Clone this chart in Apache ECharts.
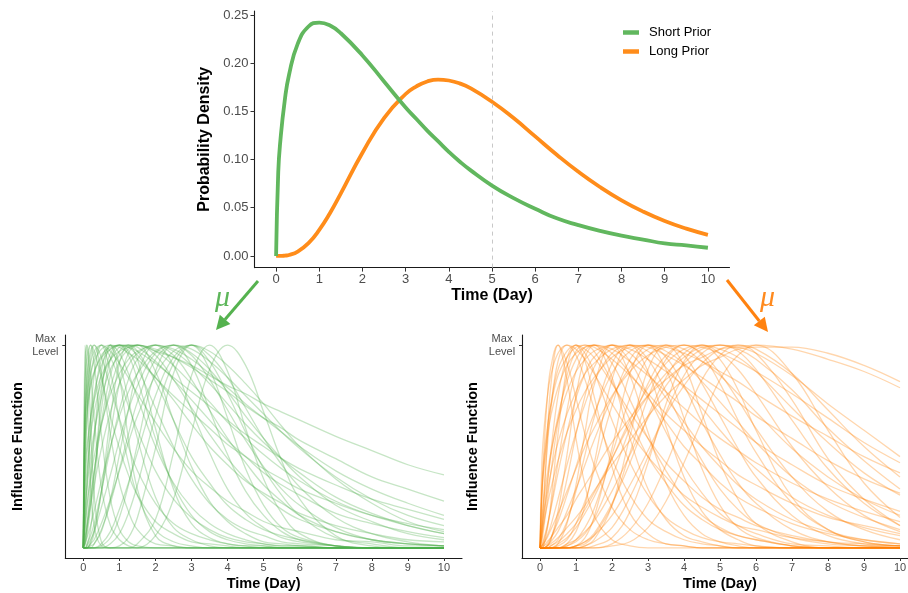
<!DOCTYPE html>
<html><head><meta charset="utf-8">
<script src="https://cdn.jsdelivr.net/npm/echarts@6/dist/echarts.min.js"></script>
<style>html,body{margin:0;padding:0;background:#fff}#c{width:908px;height:593px}</style>
</head><body><div id="c"></div>
<script>
// ---------- DATA ----------
const densityTime = [0, 0.05, 0.1, 0.2, 0.3, 0.5, 0.75, 1, 1.25, 1.5, 2, 2.5, 3, 3.25, 3.5, 3.75, 4, 4.25, 4.5, 5, 5.5, 6, 6.5, 7, 7.5, 8, 8.5, 9, 9.5, 10];
const shortPrior = [0, 0.087, 0.120, 0.161, 0.188, 0.220, 0.238, 0.242, 0.239, 0.231, 0.208, 0.181, 0.154, 0.142, 0.130, 0.119, 0.108, 0.098, 0.089, 0.073, 0.060, 0.049, 0.039, 0.032, 0.026, 0.021, 0.017, 0.013, 0.011, 0.0085];
const longPrior = [0, 0, 0, 0.0003, 0.001, 0.0045, 0.0133, 0.027, 0.0446, 0.0649, 0.107, 0.143, 0.168, 0.176, 0.181, 0.183, 0.182, 0.179, 0.174, 0.160, 0.143, 0.124, 0.105, 0.0873, 0.0715, 0.0577, 0.046, 0.0362, 0.0283, 0.0219];
const dayTicks = [0, 1, 2, 3, 4, 5, 6, 7, 8, 9, 10];
const densityTicks = [0, 0.05, 0.10, 0.15, 0.20, 0.25];
const influenceTime = [0, 0.05, 0.1, 0.2, 0.3, 0.5, 0.75, 1, 1.25, 1.5, 2, 2.5, 3, 3.5, 4, 4.5, 5, 5.5, 6, 7, 8, 9, 10];
const maxLevelTick = [1];

const shortCurves = [
 [0,.62,.71,.81,.87,.94,.98,1,1,1,.97,.94,.90,.85,.80,.76,.71,.67,.63,.55,.48,.41,.36],
 [0,.39,.50,.64,.73,.85,.93,.97,.99,1,.98,.94,.89,.83,.77,.70,.64,.59,.53,.44,.35,.29,.23],
 [0,.12,.21,.34,.45,.61,.76,.86,.93,.97,1,.98,.93,.86,.79,.71,.64,.57,.50,.38,.29,.22,.16],
 [0,.55,.67,.79,.86,.95,.99,1,.99,.97,.91,.84,.77,.70,.63,.56,.50,.44,.39,.31,.24,.19,.14],
 [0,.02,.05,.11,.18,.33,.50,.65,.77,.86,.97,1,.98,.92,.84,.75,.66,.57,.49,.35,.24,.16,.11],
 [0,.64,.75,.86,.92,.98,1,.99,.96,.93,.84,.75,.67,.59,.51,.45,.39,.34,.29,.22,.16,.12,.09],
 [0,0,0,.02,.04,.12,.24,.38,.52,.65,.85,.97,1,.97,.90,.81,.71,.60,.50,.34,.22,.13,.08],
 [0,.19,.29,.45,.57,.74,.88,.95,.99,1,.97,.90,.81,.72,.62,.54,.46,.39,.33,.23,.16,.11,.07],
 [0,.05,.10,.21,.31,.49,.67,.81,.90,.96,1,.97,.90,.81,.71,.61,.52,.44,.37,.25,.17,.11,.07],
 [0,.25,.38,.55,.67,.82,.93,.99,1,.99,.92,.83,.73,.63,.53,.45,.37,.31,.26,.17,.12,.08,.05],
 [0,0,.01,.04,.08,.20,.36,.53,.68,.80,.96,1,.96,.88,.77,.65,.54,.44,.35,.21,.13,.07,.04],
 [0,.32,.46,.64,.76,.90,.98,1,.99,.95,.84,.73,.61,.50,.41,.33,.27,.22,.17,.11,.07,.04,.03],
 [0,0,0,0,0,.02,.08,.19,.32,.47,.75,.94,1,.95,.84,.69,.54,.41,.30,.15,.07,.03,.01],
 [0,0,0,0,0,0,0,0,0,0,.06,.24,.57,.88,1,.90,.67,.43,.24,.06,.01,0,0],
 [0,0,0,0,0,0,0,0,0,.02,.14,.47,.85,1,.87,.59,.34,.17,.07,.01,0,0,0],
 [0,0,0,0,0,0,0,.01,.05,.15,.49,.86,1,.88,.64,.39,.21,.10,.05,.01,0,0,0],
 [0,0,0,0,0,.01,.05,.15,.31,.51,.87,1,.90,.68,.46,.28,.16,.08,.04,.01,0,0,0],
 [0,0,0,0,0,0,.02,.07,.17,.31,.65,.91,1,.92,.76,.57,.39,.26,.16,.05,.02,0,0],
 [0,0,0,0,.02,.08,.24,.46,.68,.86,1,.90,.68,.47,.29,.17,.10,.05,.03,.01,0,0,0],
 [0,0,0,.03,.09,.27,.56,.81,.96,1,.87,.63,.40,.23,.13,.07,.03,.02,.01,0,0,0,0],
 [0,.02,.06,.20,.36,.68,.93,1,.95,.83,.54,.31,.16,.08,.04,.02,.01,0,0,0,0,0,0],
 [0,.09,.19,.38,.55,.79,.96,1,.97,.89,.69,.50,.34,.22,.14,.09,.06,.03,.02,.01,0,0,0],
 [0,.17,.32,.55,.73,.93,1,.96,.86,.74,.50,.32,.20,.12,.07,.04,.02,.01,.01,0,0,0,0],
 [0,.03,.10,.31,.53,.87,1,.91,.73,.54,.25,.10,.04,.01,0,0,0,0,0,0,0,0,0],
 [0,.43,.62,.83,.94,1,.94,.83,.70,.58,.38,.24,.15,.09,.05,.03,.02,.01,.01,0,0,0,0],
 [0,.12,.30,.62,.85,1,.87,.63,.42,.26,.09,.03,.01,0,0,0,0,0,0,0,0,0,0],
 [0,.68,.84,.97,1,.94,.79,.64,.50,.38,.22,.12,.07,.04,.02,.01,.01,0,0,0,0,0,0],
 [0,.38,.65,.93,1,.86,.56,.32,.18,.09,.02,.01,0,0,0,0,0,0,0,0,0,0,0],
 [0,.83,.94,1,.97,.84,.65,.49,.36,.26,.13,.07,.03,.02,.01,0,0,0,0,0,0,0,0],
 [0,.53,.82,1,.91,.56,.24,.09,.03,.01,0,0,0,0,0,0,0,0,0,0,0,0,0],
 [0,.91,1,.86,.64,.30,.11,.04,.01,0,0,0,0,0,0,0,0,0,0,0,0,0,0],
 [0,.75,1,.63,.26,.03,0,0,0,0,0,0,0,0,0,0,0,0,0,0,0,0,0],
 [0,1,.81,.32,.11,.01,0,0,0,0,0,0,0,0,0,0,0,0,0,0,0,0,0],
 [0,0,0,.01,.02,.09,.22,.39,.56,.72,.93,1,.95,.83,.68,.53,.40,.29,.21,.10,.04,.02,.01],
 [0,0,.02,.06,.12,.28,.49,.68,.83,.93,1,.95,.83,.68,.54,.42,.31,.23,.16,.08,.04,.02,.01],
 [0,.03,.09,.23,.37,.62,.85,.97,1,.97,.82,.63,.45,.32,.21,.14,.09,.06,.04,.01,0,0,0],
 [0,.66,.78,.91,.97,1,.97,.91,.84,.76,.62,.49,.38,.30,.23,.18,.13,.10,.08,.04,.03,.01,.01],
 [0,.05,.12,.25,.38,.60,.79,.92,.98,1,.95,.83,.69,.56,.44,.34,.26,.19,.14,.08,.04,.02,.01],
 [0,0,0,.02,.07,.28,.64,.91,1,.93,.59,.29,.12,.05,.02,.01,0,0,0,0,0,0,0],
 [0,0,.01,.09,.28,.75,1,.84,.54,.29,.06,.01,0,0,0,0,0,0,0,0,0,0,0]
];

const longCurves = [
 [0,0,0,.01,.02,.05,.10,.15,.21,.28,.41,.53,.65,.75,.83,.90,.94,.98,.99,.99,.96,.90,.82],
 [0,0,.01,.03,.05,.10,.16,.24,.31,.38,.52,.64,.75,.83,.90,.94,.98,.99,1,.98,.93,.87,.79],
 [0,0,0,0,.01,.03,.07,.12,.19,.27,.44,.61,.75,.86,.94,.99,1,.99,.96,.85,.71,.58,.45],
 [0,.01,.02,.05,.09,.17,.28,.39,.50,.59,.75,.87,.95,.99,1,.99,.96,.92,.87,.76,.64,.52,.42],
 [0,.06,.12,.21,.29,.43,.57,.68,.77,.84,.94,.99,1,.99,.96,.92,.87,.82,.76,.65,.55,.45,.37],
 [0,0,0,0,0,0,0,.01,.03,.06,.16,.31,.48,.66,.80,.91,.98,1,.98,.86,.68,.50,.35],
 [0,.09,.16,.27,.37,.52,.66,.77,.86,.91,.98,1,.99,.95,.90,.84,.78,.72,.65,.54,.43,.34,.27],
 [0,0,0,0,0,.02,.05,.10,.17,.25,.44,.63,.79,.91,.98,1,.98,.94,.87,.69,.52,.37,.26],
 [0,.14,.23,.36,.47,.63,.77,.87,.93,.97,1,.98,.93,.87,.80,.73,.66,.59,.52,.41,.31,.24,.18],
 [0,0,0,.01,.03,.08,.18,.29,.41,.53,.74,.89,.98,1,.98,.92,.85,.76,.67,.49,.35,.24,.16],
 [0,.27,.38,.54,.65,.79,.90,.96,.99,1,.98,.92,.85,.77,.69,.61,.54,.48,.42,.32,.24,.18,.13],
 [0,0,0,0,0,0,0,0,.01,.03,.10,.25,.45,.67,.85,.96,1,.97,.88,.63,.39,.22,.11],
 [0,0,.01,.02,.05,.13,.26,.40,.54,.66,.86,.97,1,.97,.91,.82,.72,.62,.52,.35,.23,.15,.09],
 [0,.30,.43,.59,.70,.85,.94,.99,1,.99,.93,.85,.76,.66,.58,.50,.43,.36,.31,.22,.15,.11,.07],
 [0,.01,.02,.06,.11,.24,.41,.57,.71,.82,.96,1,.97,.89,.79,.69,.58,.48,.39,.25,.16,.10,.06],
 [0,0,0,0,0,0,.01,.03,.07,.14,.35,.59,.81,.95,1,.96,.86,.73,.59,.35,.18,.09,.04],
 [0,.01,.04,.11,.19,.37,.57,.74,.86,.94,1,.96,.86,.74,.62,.50,.40,.31,.24,.14,.08,.04,.02],
 [0,.24,.38,.57,.71,.88,.97,1,.98,.94,.81,.67,.54,.42,.33,.25,.19,.15,.11,.06,.03,.02,.01],
 [0,0,0,0,0,0,0,0,0,0,.01,.03,.10,.23,.42,.63,.83,.95,1,.86,.58,.32,.15],
 [0,0,0,0,0,0,0,0,0,0,.02,.09,.22,.41,.63,.83,.95,1,.96,.73,.44,.24,.11],
 [0,0,0,0,0,0,0,0,0,.01,.05,.18,.42,.71,.92,1,.93,.78,.58,.25,.09,.03,.01],
 [0,0,0,0,0,0,0,.01,.02,.06,.21,.47,.74,.93,1,.95,.81,.63,.47,.22,.09,.03,.01],
 [0,0,0,0,0,0,.01,.04,.10,.19,.46,.74,.94,1,.95,.81,.65,.49,.35,.16,.06,.02,.01],
 [0,0,0,0,0,.01,.04,.12,.23,.38,.70,.93,1,.94,.80,.62,.46,.32,.22,.09,.03,.01,0],
 [0,0,0,0,0,0,0,.01,.05,.15,.49,.86,1,.88,.64,.39,.21,.10,.05,.01,0,0,0],
 [0,0,0,0,.01,.04,.13,.28,.46,.64,.91,1,.93,.77,.59,.43,.29,.19,.12,.05,.02,.01,0],
 [0,0,0,0,0,0,.02,.08,.21,.41,.83,1,.87,.60,.35,.18,.09,.04,.01,0,0,0,0],
 [0,0,0,.01,.04,.15,.34,.56,.75,.89,1,.92,.75,.57,.40,.27,.17,.11,.07,.02,.01,0,0],
 [0,0,0,0,0,.02,.12,.31,.57,.80,1,.85,.57,.32,.16,.07,.03,.01,0,0,0,0,0],
 [0,.01,.03,.10,.20,.42,.68,.87,.97,1,.91,.73,.54,.38,.25,.16,.10,.06,.04,.01,0,0,0],
 [0,0,0,.01,.04,.18,.46,.75,.94,1,.84,.54,.29,.14,.06,.03,.01,0,0,0,0,0,0],
 [0,.03,.09,.23,.37,.62,.85,.97,1,.97,.82,.63,.45,.32,.21,.14,.09,.06,.04,.01,0,0,0],
 [0,.05,.12,.30,.47,.75,.94,1,.96,.87,.63,.42,.26,.15,.09,.05,.03,.02,.01,0,0,0,0],
 [0,0,.01,.09,.22,.56,.89,1,.92,.75,.40,.17,.07,.02,.01,0,0,0,0,0,0,0,0],
 [0,.12,.25,.49,.68,.92,1,.95,.83,.69,.44,.26,.14,.08,.04,.02,.01,0,0,0,0,0,0],
 [0,.25,.45,.73,.89,1,.91,.74,.56,.41,.20,.09,.04,.02,.01,0,0,0,0,0,0,0,0],
 [0,.06,.20,.53,.80,1,.83,.54,.31,.16,.04,.01,0,0,0,0,0,0,0,0,0,0,0],
 [0,.41,.56,.74,.85,.96,1,.98,.93,.86,.71,.57,.45,.35,.26,.20,.15,.11,.09,.05,.03,.01,.01],
 [0,.09,.17,.32,.45,.65,.82,.93,.99,1,.96,.86,.74,.62,.50,.41,.32,.25,.20,.12,.07,.04,.02],
 [0,0,0,0,0,0,0,0,.01,.04,.21,.55,.88,1,.90,.66,.42,.24,.12,.03,0,0,0],
 [0,0,0,0,0,0,0,.01,.03,.07,.22,.42,.65,.84,.96,1,.96,.88,.76,.50,.30,.16,.08],
 [0,0,0,0,0,0,.02,.04,.08,.13,.28,.46,.64,.80,.91,.98,1,.98,.93,.78,.59,.43,.29]
];

// ---------- STYLE ----------
const FONT = '"Liberation Sans", Arial, Helvetica, sans-serif';
const GREEN = '#4DAF4A', ORANGE = '#FF7F00';
const GREEN_TOP = '#61B75E', ORANGE_TOP = '#FF8C1A';
const AXIS_COL = '#1a1a1a', TICK_COL = '#333333', LABEL_COL = '#4D4D4D';

const chart = echarts.init(document.getElementById('c'), null, {renderer: 'canvas'});

function dayAxis(gridIndex, fontSize, margin, nameGap, nameSize, tickLen) {
  return {
    type: 'value', gridIndex, min: -0.5, max: 10.5,
    splitLine: {show: false},
    axisLine: {show: true, onZero: false, lineStyle: {color: AXIS_COL, width: 1.1}},
    axisTick: {show: true, customValues: dayTicks, length: tickLen, lineStyle: {color: TICK_COL, width: 1}},
    axisLabel: {customValues: dayTicks, color: LABEL_COL, fontSize, fontFamily: FONT, margin},
    name: 'Time (Day)', nameLocation: 'middle', nameGap,
    nameTextStyle: {fontWeight: 'bold', fontSize: nameSize, color: '#000', fontFamily: FONT}
  };
}
function levelAxis(gridIndex, nameGap) {
  return {
    type: 'value', gridIndex, min: -0.05, max: 1.05,
    splitLine: {show: false},
    axisLine: {show: true, onZero: false, lineStyle: {color: AXIS_COL, width: 1.1}},
    axisTick: {show: true, customValues: maxLevelTick, length: 3, lineStyle: {color: TICK_COL}},
    axisLabel: {customValues: maxLevelTick, formatter: () => 'Max\nLevel', color: LABEL_COL,
      fontSize: 11, lineHeight: 13, fontFamily: FONT, align: 'center', margin: 20},
    name: 'Influence Function', nameLocation: 'middle', nameGap,
    nameTextStyle: {fontWeight: 'bold', fontSize: 14.5, color: '#000', fontFamily: FONT}
  };
}
function curveSeries(list, idx, color) {
  return list.map(vals => ({
    type: 'line', xAxisIndex: idx, yAxisIndex: idx, silent: true,
    data: influenceTime.map((t, j) => [t, vals[j]]),
    smooth: 0.4, symbol: 'none', showSymbol: false,
    lineStyle: {width: 1.3, color, opacity: 0.32}, z: 2, animation: false
  }));
}

const option = {
  backgroundColor: '#fff',
  animation: false,
  textStyle: {fontFamily: FONT},
  grid: [
    {left: 254.5, top: 11, width: 475, height: 256.6, containLabel: false, outerBoundsMode: 'none'},
    {left: 65.3, top: 335, width: 396.7, height: 223, containLabel: false, outerBoundsMode: 'none'},
    {left: 522, top: 335, width: 396, height: 223, containLabel: false, outerBoundsMode: 'none'}
  ],
  xAxis: [
    dayAxis(0, 13, 5, 20, 16, 4),
    dayAxis(1, 11, 4, 18, 14.5, 3),
    dayAxis(2, 11, 4, 18, 14.5, 3)
  ],
  yAxis: [
    {
      type: 'value', gridIndex: 0, min: -0.0121, max: 0.2541,
      splitLine: {show: false},
      axisLine: {show: true, onZero: false, lineStyle: {color: AXIS_COL, width: 1.1}},
      axisTick: {show: true, customValues: densityTicks, length: 4, lineStyle: {color: TICK_COL}},
      axisLabel: {customValues: densityTicks, formatter: v => v.toFixed(2), color: LABEL_COL, fontSize: 13, fontFamily: FONT, margin: 6},
      name: 'Probability Density', nameLocation: 'middle', nameGap: 36,
      nameTextStyle: {fontWeight: 'bold', fontSize: 16, color: '#000', fontFamily: FONT}
    },
    levelAxis(1, 40),
    levelAxis(2, 42)
  ],
  legend: {
    data: ['Short Prior', 'Long Prior'],
    orient: 'vertical', left: 618, top: 21,
    icon: 'rect', itemWidth: 16, itemHeight: 4.5, itemGap: 6,
    textStyle: {fontSize: 13, color: '#000', fontFamily: FONT, padding: [0, 0, 0, 5]},
    selectedMode: false
  },
  series: [
    {
      name: 'Short Prior', type: 'line', xAxisIndex: 0, yAxisIndex: 0,
      data: densityTime.map((t, i) => [t, shortPrior[i]]),
      smooth: 0.5, symbol: 'none', showSymbol: false,
      lineStyle: {width: 3.8, color: GREEN_TOP}, itemStyle: {color: GREEN_TOP}, z: 5,
      markLine: {
        silent: true, symbol: 'none', label: {show: false},
        lineStyle: {type: [4, 4], color: '#C8C8C8', width: 1},
        data: [{xAxis: 5}]
      }
    },
    {
      name: 'Long Prior', type: 'line', xAxisIndex: 0, yAxisIndex: 0,
      data: densityTime.map((t, i) => [t, longPrior[i]]),
      smooth: 0.5, symbol: 'none', showSymbol: false,
      lineStyle: {width: 3.8, color: ORANGE_TOP}, itemStyle: {color: ORANGE_TOP}, z: 4
    },
    ...curveSeries(shortCurves, 1, GREEN),
    ...curveSeries(longCurves, 2, ORANGE)
  ],
  graphic: [
    {type: 'line', shape: {x1: 258, y1: 281, x2: 225, y2: 319.4}, style: {stroke: '#55B24F', lineWidth: 3}},
    {type: 'polygon', shape: {points: [[216, 330], [230.4, 324.0], [219.8, 314.8]]}, style: {fill: '#55B24F'}},
    {type: 'text', x: 222.5, y: 298, style: {text: 'μ', fill: '#5DB65A', font: 'italic 30px "Liberation Serif", "DejaVu Serif", serif', align: 'center', verticalAlign: 'middle'}},
    {type: 'line', shape: {x1: 727, y1: 280, x2: 759.3, y2: 321.0}, style: {stroke: '#FF8210', lineWidth: 3}},
    {type: 'polygon', shape: {points: [[768, 332], [764.8, 316.7], [753.8, 325.3]]}, style: {fill: '#FF8210'}},
    {type: 'text', x: 767.5, y: 298, style: {text: 'μ', fill: '#FF8A1E', font: 'italic 30px "Liberation Serif", "DejaVu Serif", serif', align: 'center', verticalAlign: 'middle'}}
  ]
};
chart.setOption(option);
</script>
</body></html>
